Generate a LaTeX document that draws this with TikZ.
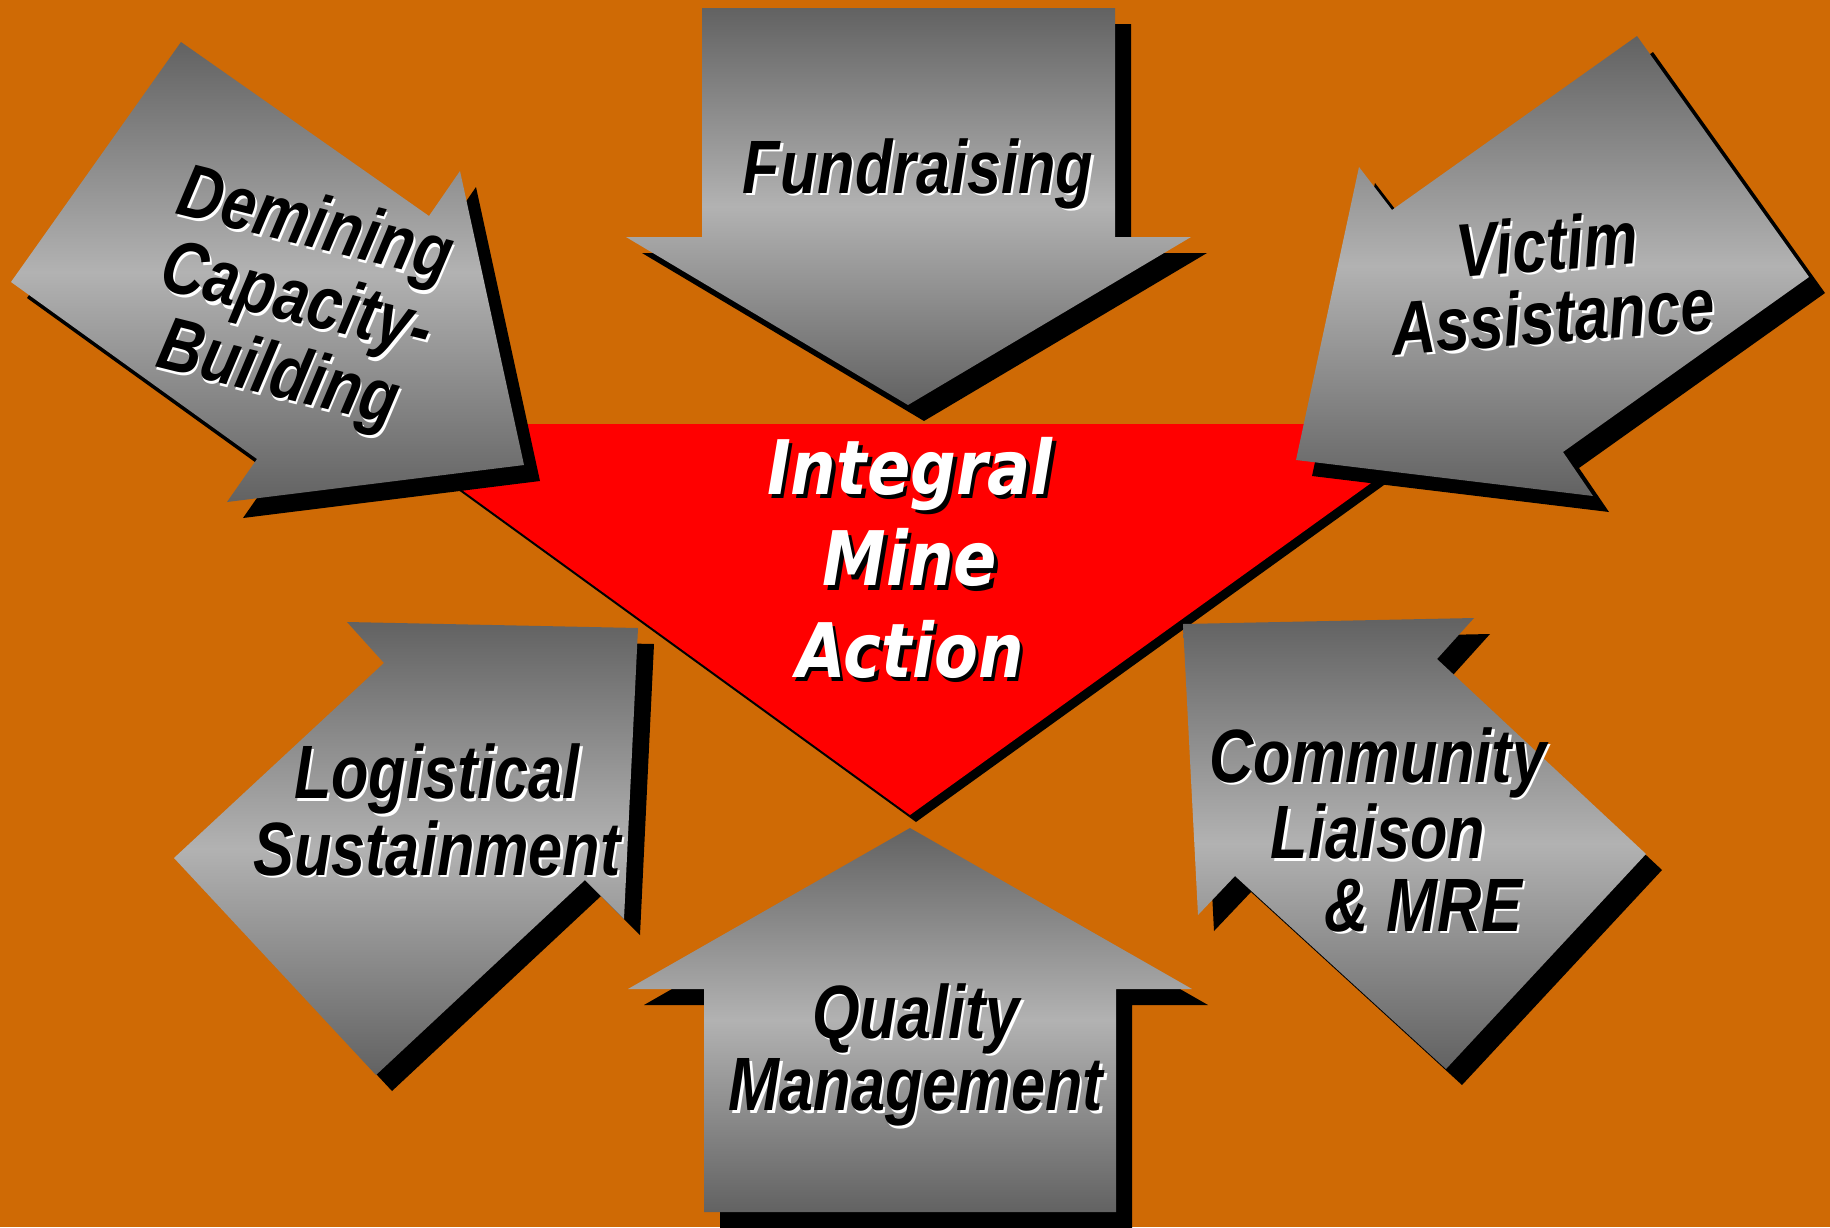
\documentclass[tikz,border=0pt]{standalone}
\usepackage{fontspec}
\setmainfont{Liberation Sans}
\newfontfamily\hubfont{DejaVu Sans}
\definecolor{bgorange}{RGB}{207,106,5}
\definecolor{arrowdark}{RGB}{98,98,98}
\definecolor{arrowlight}{RGB}{178,178,178}
% black words with a white drop shadow, and the reverse for the hub
\newcommand\litshade[1]{\makebox[0pt][l]{\kern0.8pt\raisebox{-0.8pt}{\color{white}#1}}#1}
\newcommand\darkshade[1]{\makebox[0pt][l]{\kern1.2pt\raisebox{-1.2pt}{\color{black}#1}}{\color{white}#1}}
% one grey arrow with its black shadow
\newcommand\grayarrow[1]{\fill[dropshadow] #1; \shade[arrowshade] #1;}
\tikzset{
  arrowshade/.style={top color=arrowdark, bottom color=arrowdark, middle color=arrowlight},
  dropshadow/.style={fill=black, shift={(16,16)}},
  arrowlabel/.style={inner sep=0pt, align=center, xscale=0.81,
    font=\fontsize{21.5}{20.5}\selectfont\bfseries\itshape},
  hublabel/.style={inner sep=0pt, align=center, xscale=0.85,
    font=\hubfont\fontsize{21.4}{26}\selectfont\bfseries\itshape},
}
\begin{document}
\begin{tikzpicture}[x=0.01cm,y=-0.01cm]
  \useasboundingbox (0,0) rectangle (1830,1227);
  \clip (0,0) rectangle (1830,1227);
  \fill[bgorange] (0,0) rectangle (1830,1227);
  % hub triangle
  \fill[black, shift={(6,7)}] (371,424) -- (1453,424) -- (910,815) -- cycle;
  \fill[red] (371,424) -- (1453,424) -- (910,815) -- cycle;
  % the six arrows
  \grayarrow{(181,42) -- (11,282) -- (257,459) -- (227,502) -- (524,465) -- (460,171) -- (429,216) -- cycle}
  \grayarrow{(702,8) -- (1115,8) -- (1115,237) -- (1191,237) -- (908,405) -- (626,237) -- (702,237) -- cycle}
  \grayarrow{(1637,36) -- (1809,277) -- (1563,452) -- (1593,496) -- (1296,460) -- (1359,167) -- (1392,210) -- cycle}
  \grayarrow{(347,622) -- (638,628) -- (624,919) -- (585,880) -- (376,1075) -- (174,858) -- (384,663) -- cycle}
  \grayarrow{(910,828) -- (1192,989) -- (1116,989) -- (1116,1212) -- (704,1212) -- (704,989) -- (628,989) -- cycle}
  \grayarrow{(1183,624) -- (1474,618) -- (1437,659) -- (1646,854) -- (1446,1069) -- (1235,876) -- (1198,915) -- cycle}
  % labels
  \node[rotate=-14, arrowlabel] (demining) at (296,304)
    {\litshade{Demining}\\\litshade{Capacity-}\\\litshade{Building}};
  \node[arrowlabel, anchor=base] (fundraising) at (918,193) {\litshade{Fundraising}};
  \node[rotate=4.5, arrowlabel] (victim) at (1550,281)
    {\litshade{Victim}\\\litshade{Assistance}};
  \node[arrowlabel] (logistical) at (437,811)
    {\litshade{Logistical}\\\litshade{Sustainment}};
  \node[arrowlabel] (quality) at (916,1056)
    {\litshade{Quality}\\\litshade{Management}};
  \node[arrowlabel] (community) at (1378,831)
    {\litshade{Community}\\\litshade{Liaison}\\\hspace*{32pt}\litshade{\& MRE}};
  \node[hublabel] (hub) at (910,560)
    {\darkshade{Integral}\\\darkshade{Mine}\\\darkshade{Action}};
\end{tikzpicture}
\end{document}
